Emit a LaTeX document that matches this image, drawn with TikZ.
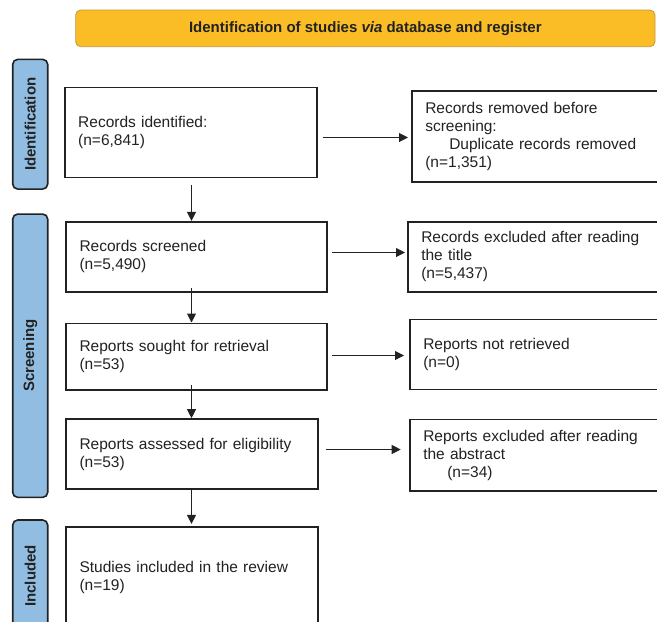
\documentclass[tikz,border=0pt]{standalone}
\usepackage{fontspec}
\setmainfont{Liberation Sans}
\usetikzlibrary{arrows.meta,calc}
\definecolor{hdrfill}{RGB}{251,189,38}
\definecolor{hdrline}{RGB}{196,150,60}
\definecolor{sidefill}{RGB}{146,189,227}
\definecolor{ink}{RGB}{34,34,34}
\begin{document}
\begin{tikzpicture}[x=1pt,y=-1pt,
  box/.style={draw=ink, line width=1.6pt, fill=white, align=left, inner xsep=13.5pt, inner ysep=0pt,
    font=\fontsize{15.5}{18}\selectfont, text=ink},
  rbox/.style={box, anchor=west},
  side/.style={draw=ink, line width=1.6pt, fill=sidefill, rounded corners=5pt, minimum height=35pt,
    rotate=90, font=\bfseries\fontsize{15}{18}\selectfont, text=ink, inner sep=0pt},
  hdr/.style={draw=hdrline, line width=0.8pt, fill=hdrfill, rounded corners=5pt,
    font=\bfseries\fontsize{15}{18}\selectfont, text=ink},
  arr/.style={draw=ink, line width=1pt, -{Triangle[length=9pt,width=9pt]}}]
\useasboundingbox (0,0) rectangle (657,622);

\node[hdr, minimum width=579.3pt, minimum height=36.7pt] (hdr) at (365.35,28.35)
  {Identification of studies \textit{via} database and register};

\node[side, minimum width=129.7pt] (idlab) at (30.2,124.2) {Identification};
\node[side, minimum width=283.3pt] (sclab) at (30.2,355.7) {Screening};
\node[side, minimum width=112pt] (inlab) at (30.2,576) {Included};

\node[box, minimum width=252pt, text width=225pt, minimum height=90pt] (b1) at (190.7,132.3)
  {Records identified:\\(n=6,841)};
\node[box, minimum width=261pt, text width=234pt, minimum height=70.3pt] (b2) at (196.5,256.85)
  {Records screened\\(n=5,490)};
\node[box, minimum width=260.7pt, text width=233.7pt, minimum height=66.7pt] (b3) at (196.35,356.65)
  {Reports sought for retrieval\\(n=53)};
\node[box, minimum width=251.7pt, text width=224.7pt, minimum height=70pt] (b4) at (191.85,454)
  {Reports assessed for eligibility\\(n=53)};
\node[box, minimum width=251.7pt, text width=224.7pt, minimum height=101.6pt] (b5) at (191.85,577.5)
  {Studies included in the review\\(n=19)};

\node[rbox, minimum width=259pt, text width=232pt, minimum height=91.3pt] (r1) at (411,136.35)
  {Records removed before\\screening:\\\hspace*{24pt}Duplicate records removed\\(n=1,351)};
\node[rbox, minimum width=263pt, text width=236pt, minimum height=70pt] (r2) at (407,256.7)
  {Records excluded after reading\\the title\\(n=5,437)};
\node[rbox, minimum width=261pt, text width=234pt, minimum height=70pt] (r3) at (409,354.3)
  {Reports not retrieved\\(n=0)};
\node[rbox, minimum width=261pt, text width=234pt, minimum height=71.4pt] (r4) at (409,455)
  {Reports excluded after reading\\the abstract\\\hspace*{24pt}(n=34)};

\coordinate (ax) at (191.5,0);
\draw[arr] ($(b1.south -| ax)+(0,7)$) -- (b2.north -| ax);
\draw[arr] ($(b2.south -| ax)+(0,-5.3)$) -- (b3.north -| ax);
\draw[arr] ($(b3.south -| ax)+(0,-6)$) -- (b4.north -| ax);
\draw[arr] ($(b4.south -| ax)+(0,-1)$) -- ($(b5.north -| ax)+(0,-2)$);

\draw[arr] ($(b1.east |- r1.west)+(5,1.15)$) -- ($(r1.west)+(-3,1.15)$);
\draw[arr] ($(b2.east |- r2.west)+(3.7,-4.2)$) -- ($(r2.west)+(-2,-4.2)$);
\draw[arr] ($(b3.east |- r3.west)+(4,1.2)$) -- ($(r3.west)+(-5,1.2)$);
\draw[arr] ($(b4.east |- r4.west)+(7.3,-5.5)$) -- ($(r4.west)+(-8.3,-5.5)$);
\end{tikzpicture}
\end{document}
